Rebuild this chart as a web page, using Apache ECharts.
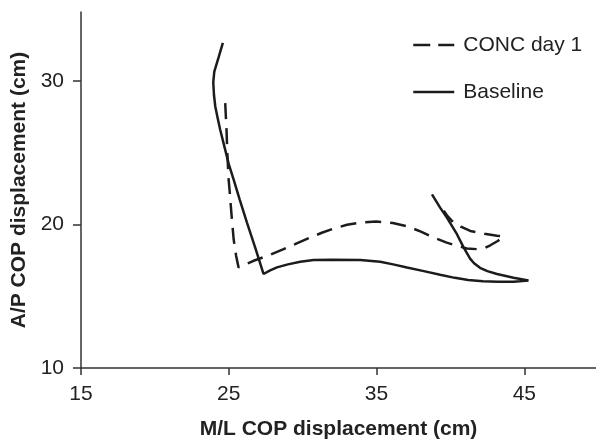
<!DOCTYPE html>
<html>
<head>
<meta charset="utf-8">
<script src="https://cdn.jsdelivr.net/npm/echarts@6/dist/echarts.min.js"></script>
<style>
  html, body { margin: 0; padding: 0; background: #fff; }
  #chart { width: 596px; height: 445px; }
</style>
</head>
<body>
<div id="chart"></div>
<script>
// tick labels
const xTicks = [15, 25, 35, 45];
const yTicks = [10, 20, 30];

// Baseline path (M/L, A/P), in drawing order
const baselineX = [24.6, 24.3, 24.02, 23.95, 24.0, 24.09, 24.25, 24.42, 24.7, 25.0, 25.33, 25.75, 26.23, 26.8, 27.35,
    27.8, 28.26, 29.0, 29.84, 30.74, 32.0, 33.9, 35.25, 36.2, 37.06, 38.2, 39.3, 40.3, 41.2, 42.2, 43.2, 44.27, 45.28,
    44.27, 43.15, 42.5, 42.0, 41.6, 41.34, 40.89, 40.44, 39.76, 39.3, 38.75];
const baselineY = [32.65, 31.6, 30.64, 29.9, 29.0, 28.2, 27.4, 26.6, 25.44, 24.2, 23.13, 21.7, 20.13, 18.35, 16.55,
    16.8, 17.01, 17.22, 17.4, 17.52, 17.54, 17.52, 17.4, 17.2, 17.0, 16.75, 16.5, 16.28, 16.13, 16.05, 16.01, 16.01, 16.1,
    16.29, 16.55, 16.75, 16.98, 17.3, 17.6, 18.4, 19.32, 20.48, 21.17, 22.1];

// CONC day 1 path
const concX = [24.76, 24.85, 24.9, 24.99, 25.05, 25.2, 25.33, 25.5, 25.66, 26.1, 26.68, 27.7, 28.71, 29.6, 30.51, 31.3,
    32.1, 33.0, 33.9, 34.97, 36.1, 37.06, 38.0, 38.86, 39.7, 40.44, 41.1, 41.79, 42.3, 42.7, 43.2, 43.6,
    43.15, 42.3, 41.34, 40.7, 40.21, 39.76, 39.55];
const concY = [28.45, 26.5, 25.0, 23.13, 22.44, 20.5, 18.97, 17.8, 17.01, 17.2, 17.47, 17.85, 18.28, 18.68, 19.09, 19.42,
    19.71, 19.98, 20.13, 20.2, 20.1, 19.88, 19.5, 19.09, 18.75, 18.51, 18.33, 18.28, 18.35, 18.55, 18.85, 19.16,
    19.22, 19.35, 19.55, 19.85, 20.13, 20.64, 20.95];

const zip = (xs, ys) => xs.map((x, i) => [x, ys[i]]);

const FONT = "'Liberation Sans', Arial, sans-serif";
const INK = "#1c1c1c";
const AXIS = "#333";

const chart = echarts.init(document.getElementById("chart"));

chart.setOption({
    animation: false,
    backgroundColor: "#fff",
    grid: { left: 81, right: 0, top: 12, bottom: 75 },
    legend: {
        orient: "vertical",
        left: 412,
        top: 34,
        padding: 0,
        itemWidth: 41,
        itemHeight: 14,
        itemGap: 25,
        data: [
            { name: "CONC day 1", itemStyle: { opacity: 0 }, lineStyle: { color: INK, width: 2.5, type: [17, 8] } },
            { name: "Baseline", itemStyle: { opacity: 0 }, lineStyle: { color: INK, width: 2.5, type: "solid" } },
        ],
        textStyle: { fontFamily: FONT, fontSize: 21, color: "#222", lineHeight: 22, padding: [0, 0, 0, 4] },
    },
    xAxis: {
        type: "value",
        min: 15,
        max: 49.85,
        name: "M/L COP displacement (cm)",
        nameLocation: "middle",
        nameGap: 51,
        nameTextStyle: { fontFamily: FONT, fontSize: 21, fontWeight: "bold", color: "#222" },
        axisLine: { lineStyle: { color: AXIS, width: 1.5 } },
        axisTick: { show: true, length: 7, customValues: xTicks, lineStyle: { color: AXIS, width: 1.5 } },
        axisLabel: { customValues: xTicks, margin: 16, fontFamily: FONT, fontSize: 21, color: "#222" },
        splitLine: { show: false },
    },
    yAxis: {
        type: "value",
        min: 10,
        max: 34.8,
        name: "A/P COP displacement (cm)",
        nameLocation: "middle",
        nameRotate: 90,
        nameGap: 46,
        nameTextStyle: { fontFamily: FONT, fontSize: 21, fontWeight: "bold", color: "#222" },
        axisLine: { show: true, lineStyle: { color: AXIS, width: 1.5 } },
        axisTick: { show: true, length: 8, customValues: yTicks, lineStyle: { color: AXIS, width: 1.5 } },
        axisLabel: { customValues: yTicks, margin: 17, fontFamily: FONT, fontSize: 21, color: "#222" },
        splitLine: { show: false },
    },
    series: [
        {
            name: "CONC day 1",
            type: "line",
            symbol: "none",
            data: zip(concX, concY),
            lineStyle: { color: INK, width: 2.5, type: [16, 9] },
            itemStyle: { color: INK },
        },
        {
            name: "Baseline",
            type: "line",
            symbol: "none",
            data: zip(baselineX, baselineY),
            lineStyle: { color: INK, width: 2.5 },
            itemStyle: { color: INK },
        },
    ],
});
</script>
</body>
</html>
